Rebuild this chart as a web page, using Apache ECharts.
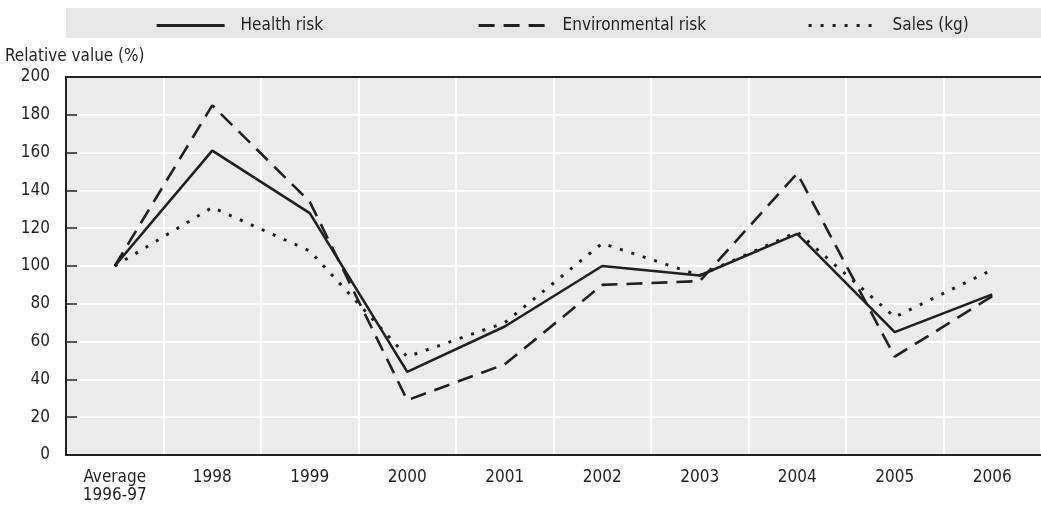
<!DOCTYPE html>
<html>
<head>
<meta charset="utf-8">
<script src="https://cdn.jsdelivr.net/npm/echarts@6/dist/echarts.min.js"></script>
<style>
html,body{margin:0;padding:0;background:#fff;}
#c{width:1041px;height:507px;}
</style>
</head>
<body>
<div id="c"></div>
<script>
var categories = ['Average\n1996-97','1998','1999','2000','2001','2002','2003','2004','2005','2006'];
var healthRisk = [100,161,128,44,68,100,95,117,65,85];
var environmentalRisk = [100,185,134,29,48,90,92,149,52,84];
var sales = [100,131,108,52,70,112,95,118,73,98];
var yTicks = {min:0, max:200, interval:20};

var FONT = "'DejaVu Sans Condensed',sans-serif";
var INK = '#231f20';
var FS = 17;

var chart = echarts.init(document.getElementById('c'), null, {renderer:'canvas'});
function lg(name, left){
  return {
    data:[name], left:left, top:17, itemWidth:68, itemHeight:14, itemGap:0, padding:0,
    itemStyle:{opacity:0},
    lineStyle:{width:3.2},
    textStyle:{fontFamily:FONT, fontSize:FS, color:INK, padding:[0,0,0,11]},
    selectedMode:false
  };
}
chart.setOption({
  animation:false,
  title:{text:'Relative value (%)', left:5, top:48, padding:0,
    textStyle:{fontFamily:FONT, fontSize:FS, fontWeight:'normal', color:INK}},
  graphic:[{type:'rect', shape:{x:66,y:8,width:975,height:30}, style:{fill:'#e6e6e6'}, z:-10, silent:true}],
  legend:[lg('Health risk',155), lg('Environmental risk',477), lg('Sales (kg)',807)],
  grid:{left:66, top:77, width:984, height:378, show:true, backgroundColor:'#ebebeb', borderWidth:0},
  xAxis:[{
    type:'category', data:categories, boundaryGap:true, position:'bottom',
    axisLine:{lineStyle:{color:INK, width:2}},
    axisTick:{inside:true, length:11, alignWithLabel:false, lineStyle:{color:INK, width:1.5}},
    axisLabel:{fontFamily:FONT, fontSize:FS, color:INK, margin:14, lineHeight:18, interval:0},
    splitLine:{show:true, lineStyle:{color:'#ffffff', width:2}}
  },{
    type:'category', data:categories, position:'top',
    axisLine:{lineStyle:{color:INK, width:2}},
    axisTick:{show:false}, axisLabel:{show:false}, splitLine:{show:false}
  }],
  yAxis:{
    type:'value', min:yTicks.min, max:yTicks.max, interval:yTicks.interval,
    axisLine:{show:true, lineStyle:{color:INK, width:2}},
    axisTick:{show:true, inside:true, length:11, lineStyle:{color:INK, width:1.5}},
    axisLabel:{fontFamily:FONT, fontSize:FS, color:INK, margin:16},
    splitLine:{show:true, lineStyle:{color:'#ffffff', width:2}}
  },
  series:[
    {name:'Health risk', type:'line', data:healthRisk, symbol:'none', z:5,
      lineStyle:{color:INK, width:2.6, type:'solid'}, itemStyle:{color:INK}},
    {name:'Environmental risk', type:'line', data:environmentalRisk, symbol:'none', z:4,
      lineStyle:{color:INK, width:2.6, type:[16,9]}, itemStyle:{color:INK}},
    {name:'Sales (kg)', type:'line', data:sales, symbol:'none', z:3,
      lineStyle:{color:INK, width:3, type:[3,9]}, itemStyle:{color:INK}}
  ]
});
</script>
</body>
</html>
